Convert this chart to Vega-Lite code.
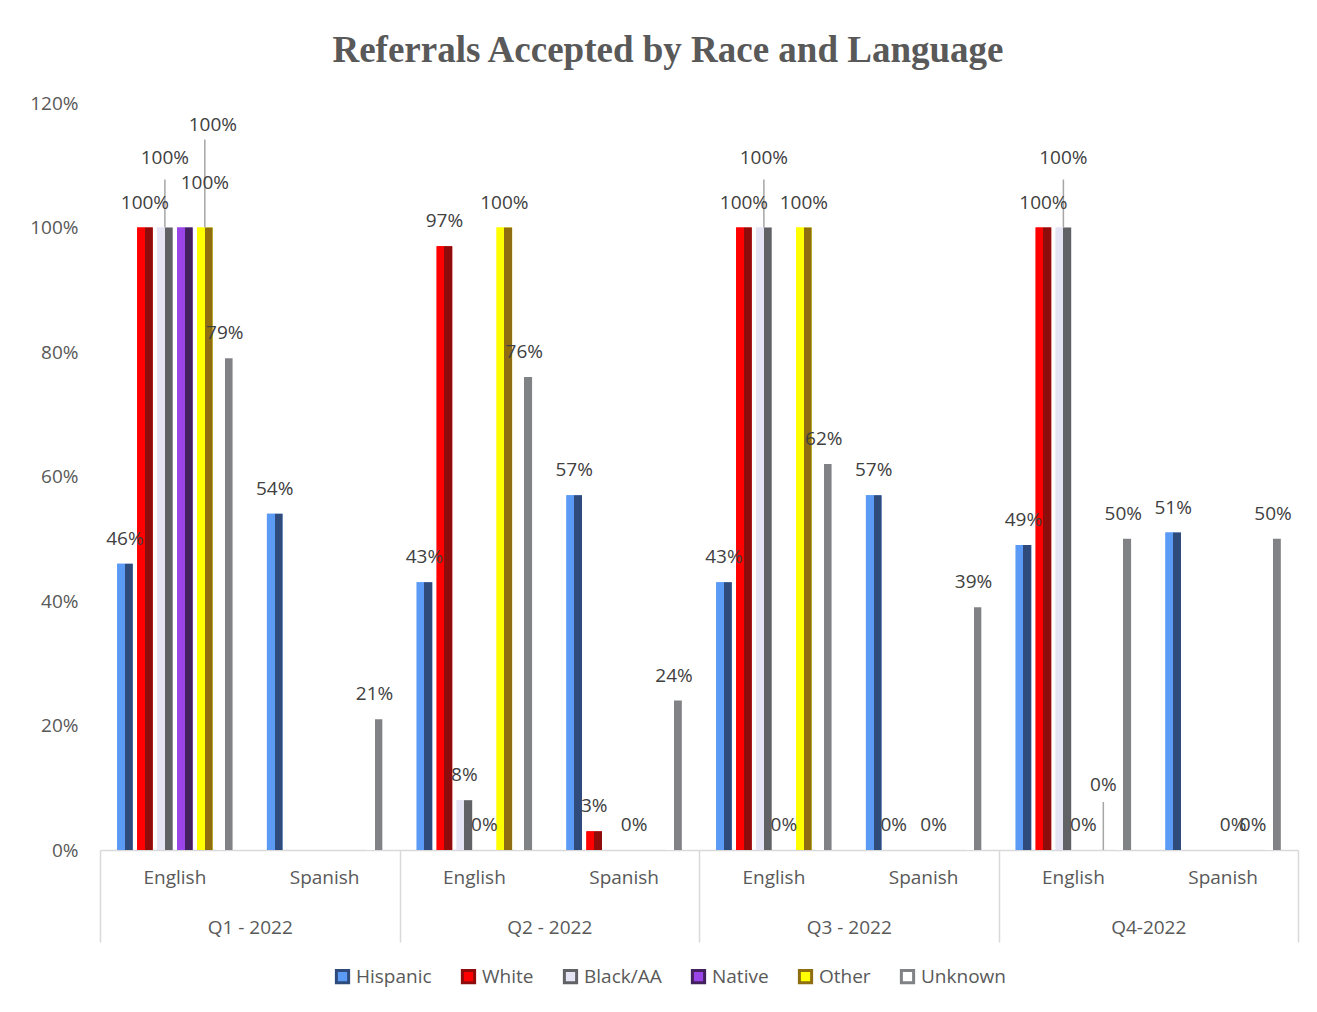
{
  "$schema": "https://vega.github.io/schema/vega-lite/v6.json",
  "autosize": {"type": "none"},
  "width": 1198,
  "height": 747,
  "padding": {"left": 100, "top": 103, "right": 19, "bottom": 162},
  "background": "white",
  "title": {
    "text": "Referrals Accepted by Race and Language",
    "font": "Liberation Serif",
    "fontSize": 37,
    "fontWeight": "bold",
    "color": "#595959",
    "anchor": "middle",
    "dx": -31,
    "offset": 24
  },
  "data": {
    "values": [
      {"quarter": "Q1 - 2022", "lang": "English", "race": "Hispanic", "value": 0.46},
      {"quarter": "Q1 - 2022", "lang": "English", "race": "White", "value": 1.0},
      {"quarter": "Q1 - 2022", "lang": "English", "race": "Black/AA", "value": 1.0},
      {"quarter": "Q1 - 2022", "lang": "English", "race": "Native", "value": 1.0},
      {"quarter": "Q1 - 2022", "lang": "English", "race": "Other", "value": 1.0},
      {"quarter": "Q1 - 2022", "lang": "English", "race": "Unknown", "value": 0.79},
      {"quarter": "Q1 - 2022", "lang": "Spanish", "race": "Hispanic", "value": 0.54},
      {"quarter": "Q1 - 2022", "lang": "Spanish", "race": "Unknown", "value": 0.21},
      {"quarter": "Q2 - 2022", "lang": "English", "race": "Hispanic", "value": 0.43},
      {"quarter": "Q2 - 2022", "lang": "English", "race": "White", "value": 0.97},
      {"quarter": "Q2 - 2022", "lang": "English", "race": "Black/AA", "value": 0.08},
      {"quarter": "Q2 - 2022", "lang": "English", "race": "Native", "value": 0.0},
      {"quarter": "Q2 - 2022", "lang": "English", "race": "Other", "value": 1.0},
      {"quarter": "Q2 - 2022", "lang": "English", "race": "Unknown", "value": 0.76},
      {"quarter": "Q2 - 2022", "lang": "Spanish", "race": "Hispanic", "value": 0.57},
      {"quarter": "Q2 - 2022", "lang": "Spanish", "race": "White", "value": 0.03},
      {"quarter": "Q2 - 2022", "lang": "Spanish", "race": "Native", "value": 0.0},
      {"quarter": "Q2 - 2022", "lang": "Spanish", "race": "Unknown", "value": 0.24},
      {"quarter": "Q3 - 2022", "lang": "English", "race": "Hispanic", "value": 0.43},
      {"quarter": "Q3 - 2022", "lang": "English", "race": "White", "value": 1.0},
      {"quarter": "Q3 - 2022", "lang": "English", "race": "Black/AA", "value": 1.0},
      {"quarter": "Q3 - 2022", "lang": "English", "race": "Native", "value": 0.0},
      {"quarter": "Q3 - 2022", "lang": "English", "race": "Other", "value": 1.0},
      {"quarter": "Q3 - 2022", "lang": "English", "race": "Unknown", "value": 0.62},
      {"quarter": "Q3 - 2022", "lang": "Spanish", "race": "Hispanic", "value": 0.57},
      {"quarter": "Q3 - 2022", "lang": "Spanish", "race": "White", "value": 0.0},
      {"quarter": "Q3 - 2022", "lang": "Spanish", "race": "Native", "value": 0.0},
      {"quarter": "Q3 - 2022", "lang": "Spanish", "race": "Unknown", "value": 0.39},
      {"quarter": "Q4-2022", "lang": "English", "race": "Hispanic", "value": 0.49},
      {"quarter": "Q4-2022", "lang": "English", "race": "White", "value": 1.0},
      {"quarter": "Q4-2022", "lang": "English", "race": "Black/AA", "value": 1.0},
      {"quarter": "Q4-2022", "lang": "English", "race": "Native", "value": 0.0},
      {"quarter": "Q4-2022", "lang": "English", "race": "Other", "value": 0.0},
      {"quarter": "Q4-2022", "lang": "English", "race": "Unknown", "value": 0.50},
      {"quarter": "Q4-2022", "lang": "Spanish", "race": "Hispanic", "value": 0.51},
      {"quarter": "Q4-2022", "lang": "Spanish", "race": "Native", "value": 0.0},
      {"quarter": "Q4-2022", "lang": "Spanish", "race": "Other", "value": 0.0},
      {"quarter": "Q4-2022", "lang": "Spanish", "race": "Unknown", "value": 0.50}
    ]
  },
  "transform": [{"calculate": "datum.quarter + '|' + datum.lang", "as": "key"}],
  "layer": [
    {
      "encoding": {
        "x": {
          "field": "key",
          "type": "nominal",
          "title": null,
          "scale": {"paddingInner": 0.2, "paddingOuter": 0.1},
          "axis": {
            "labelExpr": "split(datum.label, '|')[1]",
            "labelAngle": 0,
            "ticks": false,
            "domain": true,
            "domainColor": "#D9D9D9",
            "domainWidth": 1.5,
            "labelPadding": 18,
            "labelFont": "Open Sans",
            "labelFontSize": 19,
            "labelColor": "#595959",
            "grid": false
          }
        },
        "xOffset": {
          "field": "race",
          "type": "nominal",
          "sort": ["Hispanic", "White", "Black/AA", "Native", "Other", "Unknown"],
          "scale": {"domain": ["Hispanic", "White", "Black/AA", "Native", "Other", "Unknown"], "paddingInner": 0.22, "paddingOuter": 0.11}
        },
        "y": {
          "field": "value",
          "type": "quantitative",
          "title": null,
          "scale": {"domain": [0, 1.2], "nice": false},
          "axis": {
            "values": [0, 0.2, 0.4, 0.6, 0.8, 1.0, 1.2],
            "format": ".0%",
            "grid": false,
            "ticks": false,
            "domain": false,
            "labelPadding": 22,
            "labelFont": "Open Sans",
            "labelFontSize": 19,
            "labelColor": "#595959"
          }
        }
      },
      "layer": [
        {
          "mark": {"type": "bar", "strokeWidth": 0},
          "encoding": {
            "color": {
              "field": "race",
              "type": "nominal",
              "title": null,
              "scale": {
                "domain": ["Hispanic", "White", "Black/AA", "Native", "Other", "Unknown"],
                "range": ["#5B9BF5", "#FF0000", "#E4E4F4", "#9B45E8", "#FFFF00", "#FFFFFF"]
              },
              "legend": {
                "orient": "none",
                "legendX": 233,
                "legendY": 864,
                "direction": "horizontal",
                "symbolType": "square",
                "symbolSize": 150,
                "symbolStrokeWidth": 3,
                "labelFont": "Open Sans",
                "labelFontSize": 19,
                "labelColor": "#595959",
                "columnPadding": 24
              }
            },
            "stroke": {
              "field": "race",
              "type": "nominal",
              "title": null,
              "scale": {
                "domain": ["Hispanic", "White", "Black/AA", "Native", "Other", "Unknown"],
                "range": ["#2F4B7C", "#8E0C0C", "#616266", "#43205E", "#8E6E10", "#808285"]
              },
              "legend": {
                "orient": "none",
                "legendX": 233,
                "legendY": 864,
                "direction": "horizontal",
                "symbolType": "square",
                "symbolSize": 150,
                "symbolStrokeWidth": 3,
                "labelFont": "Open Sans",
                "labelFontSize": 19,
                "labelColor": "#595959",
                "columnPadding": 24
              }
            }
          }
        },
        {
          "transform": [{"filter": "datum.race == 'Hispanic'"}],
          "mark": {"type": "bar", "color": {"gradient": "linear", "x1": 0, "x2": 1, "y1": 0, "y2": 0, "stops": [{"offset": 0, "color": "#5B9BF5"}, {"offset": 0.5, "color": "#5B9BF5"}, {"offset": 0.5, "color": "#2F4B7C"}, {"offset": 1, "color": "#2F4B7C"}]}}
        },
        {
          "transform": [{"filter": "datum.race == 'White'"}],
          "mark": {"type": "bar", "color": {"gradient": "linear", "x1": 0, "x2": 1, "y1": 0, "y2": 0, "stops": [{"offset": 0, "color": "#FF0000"}, {"offset": 0.5, "color": "#FF0000"}, {"offset": 0.5, "color": "#8E0C0C"}, {"offset": 1, "color": "#8E0C0C"}]}}
        },
        {
          "transform": [{"filter": "datum.race == 'Black/AA'"}],
          "mark": {"type": "bar", "color": {"gradient": "linear", "x1": 0, "x2": 1, "y1": 0, "y2": 0, "stops": [{"offset": 0, "color": "#E4E4F4"}, {"offset": 0.5, "color": "#E4E4F4"}, {"offset": 0.5, "color": "#616266"}, {"offset": 1, "color": "#616266"}]}}
        },
        {
          "transform": [{"filter": "datum.race == 'Native'"}],
          "mark": {"type": "bar", "color": {"gradient": "linear", "x1": 0, "x2": 1, "y1": 0, "y2": 0, "stops": [{"offset": 0, "color": "#9B45E8"}, {"offset": 0.5, "color": "#9B45E8"}, {"offset": 0.5, "color": "#43205E"}, {"offset": 1, "color": "#43205E"}]}}
        },
        {
          "transform": [{"filter": "datum.race == 'Other'"}],
          "mark": {"type": "bar", "color": {"gradient": "linear", "x1": 0, "x2": 1, "y1": 0, "y2": 0, "stops": [{"offset": 0, "color": "#FFFF00"}, {"offset": 0.5, "color": "#FFFF00"}, {"offset": 0.5, "color": "#8E6E10"}, {"offset": 1, "color": "#8E6E10"}]}}
        },
        {
          "transform": [{"filter": "datum.race == 'Unknown'"}],
          "mark": {"type": "bar", "color": {"gradient": "linear", "x1": 0, "x2": 1, "y1": 0, "y2": 0, "stops": [{"offset": 0, "color": "#FFFFFF"}, {"offset": 0.5, "color": "#FFFFFF"}, {"offset": 0.5, "color": "#808285"}, {"offset": 1, "color": "#808285"}]}}
        },
        {
          "transform": [{"filter": "(datum.race == 'Black/AA' && datum.value == 1) || (datum.lang == 'English' && datum.quarter == 'Q4-2022' && datum.race == 'Other')"}],
          "mark": {"type": "rule", "color": "#A6A6A6", "strokeWidth": 1.5, "y2Offset": -48},
          "encoding": {
            "y2": {"field": "value"}
          }
        },
        {
          "transform": [{"filter": "datum.lang == 'English' && datum.quarter == 'Q1 - 2022' && datum.race == 'Other'"}],
          "mark": {"type": "rule", "color": "#A6A6A6", "strokeWidth": 1.5, "y2Offset": -88},
          "encoding": {
            "y2": {"field": "value"}
          }
        },
        {
          "transform": [{"filter": "!((datum.race == 'Black/AA' && datum.value == 1) || (datum.lang == 'English' && datum.quarter == 'Q1 - 2022' && (datum.race == 'Other' || datum.race == 'Native')) || (datum.lang == 'English' && datum.quarter == 'Q4-2022' && datum.race == 'Other'))"}],
          "mark": {"type": "text", "baseline": "middle", "dy": -25, "font": "Open Sans", "fontSize": 19, "color": "#404040"},
          "encoding": {
            "text": {"field": "value", "type": "quantitative", "format": ".0%"}
          }
        },
        {
          "transform": [{"filter": "datum.race == 'Black/AA' && datum.value == 1"}],
          "mark": {"type": "text", "baseline": "middle", "dy": -70, "font": "Open Sans", "fontSize": 19, "color": "#404040"},
          "encoding": {
            "text": {"field": "value", "type": "quantitative", "format": ".0%"}
          }
        },
        {
          "transform": [{"filter": "datum.lang == 'English' && datum.quarter == 'Q1 - 2022' && datum.race == 'Native'"}],
          "mark": {"type": "text", "baseline": "middle", "dx": 20, "dy": -45, "font": "Open Sans", "fontSize": 19, "color": "#404040"},
          "encoding": {
            "text": {"field": "value", "type": "quantitative", "format": ".0%"}
          }
        },
        {
          "transform": [{"filter": "datum.lang == 'English' && datum.quarter == 'Q1 - 2022' && datum.race == 'Other'"}],
          "mark": {"type": "text", "baseline": "middle", "dx": 8, "dy": -103, "font": "Open Sans", "fontSize": 19, "color": "#404040"},
          "encoding": {
            "text": {"field": "value", "type": "quantitative", "format": ".0%"}
          }
        },
        {
          "transform": [{"filter": "datum.lang == 'English' && datum.quarter == 'Q4-2022' && datum.race == 'Other'"}],
          "mark": {"type": "text", "baseline": "middle", "dy": -65, "font": "Open Sans", "fontSize": 19, "color": "#404040"},
          "encoding": {
            "text": {"field": "value", "type": "quantitative", "format": ".0%"}
          }
        }
      ]
    },
    {
      "mark": {"type": "rule", "opacity": 0},
      "encoding": {
        "x": {
          "field": "quarter",
          "type": "nominal",
          "title": null,
          "sort": ["Q1 - 2022", "Q2 - 2022", "Q3 - 2022", "Q4-2022"],
          "scale": {"paddingInner": 0, "paddingOuter": 0},
          "axis": {
            "orient": "bottom",
            "labelAngle": 0,
            "domain": false,
            "ticks": true,
            "tickBand": "extent",
            "tickSize": 92,
            "tickColor": "#D9D9D9",
            "tickWidth": 1.5,
            "labelPadding": -24,
            "labelFont": "Open Sans",
            "labelFontSize": 19,
            "labelColor": "#595959",
            "grid": false
          }
        }
      }
    }
  ],
  "resolve": {"scale": {"x": "independent"}, "axis": {"x": "independent"}},
  "config": {"view": {"stroke": null}}
}
